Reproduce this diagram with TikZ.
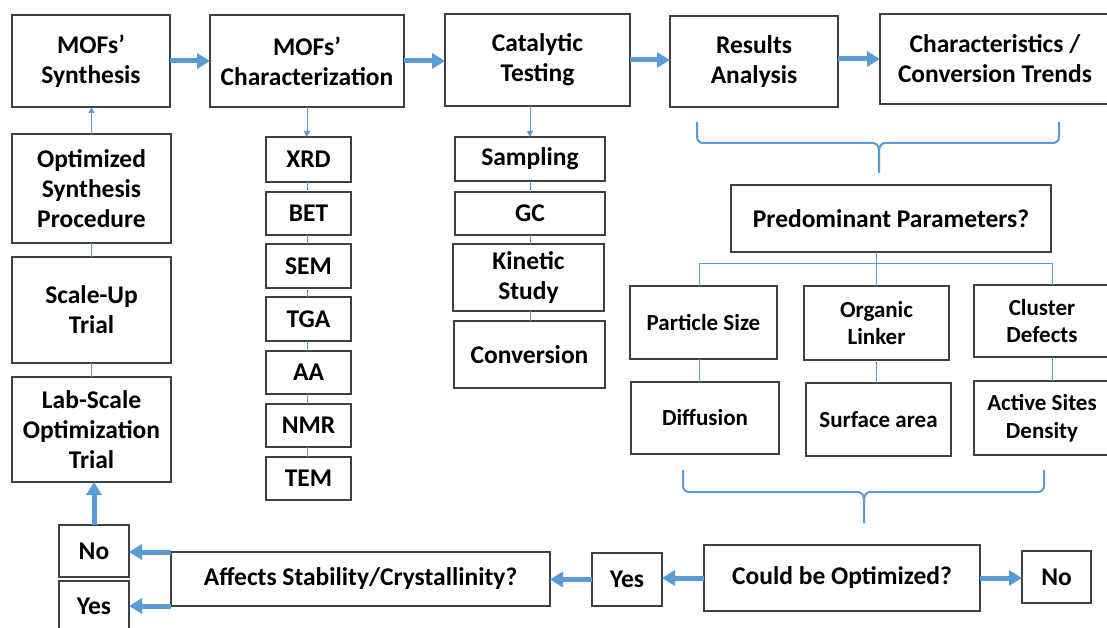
\documentclass[tikz,border=0pt]{standalone}
\usepackage{fontspec}
\setmainfont{Carlito}
\usetikzlibrary{arrows.meta}
\definecolor{bl}{RGB}{91,155,213}
\definecolor{bd}{RGB}{64,64,64}
\tikzset{
  box/.style={draw=bd, line width=1.2pt, align=center, inner sep=0pt, outer sep=0pt,
    font=\fontsize{25.5}{30}\selectfont\bfseries},
  big/.style={font=\fontsize{25.5}{30}\selectfont\bfseries},
  small/.style={font=\fontsize{23}{27.5}\selectfont\bfseries},
  thick arrow/.style={draw=bl, line width=5pt, -{Triangle[length=13pt,width=15pt]}},
  thin arrow/.style={draw=bl, line width=1pt, -{Triangle[length=6pt,width=6pt]}},
  thin line/.style={draw=bl, line width=1pt},
  brace/.style={draw=bl, line width=2pt, line join=round},
}
\newcommand\mybox[7][]{\node[box,#1,minimum width={(#4)-(#2)},minimum height={(#5)-(#3)}] (#7) at ({((#2)+(#4))/2},{((#3)+(#5))/2}) {#6};}
\begin{document}
\begin{tikzpicture}[x=1pt,y=-1pt]
\useasboundingbox[fill=white] (0,0) rectangle (1107,628);
% top row
\mybox[big]{12}{15}{170}{107}{MOFs’\\Synthesis}{syn}
\mybox[big]{210}{15}{404}{107}{MOFs’\\Characterization}{chr}
\mybox[big]{445}{14}{630}{106}{Catalytic\\Testing}{cat}
\mybox[big]{670}{16}{838}{107}{Results\\Analysis}{res}
\mybox[big]{880}{14}{1110}{104}{Characteristics /\\Conversion Trends}{trd}
% left column
\mybox[big]{12}{134}{171}{243}{Optimized\\Synthesis\\Procedure}{opt}
\mybox[big]{12}{257}{171}{363}{Scale-Up\\Trial}{scl}
\mybox[big]{12}{377}{171}{482}{Lab-Scale\\Optimization\\Trial}{lab}
% characterization column
\mybox{266}{137}{351}{182}{XRD}{xrd}
\mybox{266}{192}{351}{235}{BET}{bet}
\mybox{266}{244}{351}{288}{SEM}{sem}
\mybox{266}{297}{351}{341}{TGA}{tga}
\mybox{266}{351}{351}{394}{AA}{aa}
\mybox{266}{404}{351}{447}{NMR}{nmr}
\mybox{266}{457}{351}{500}{TEM}{tem}
% catalytic column
\mybox{455}{137}{605}{181}{Sampling}{smp}
\mybox{455}{192}{605}{235}{GC}{gc}
\mybox{453}{244}{604}{311}{Kinetic\\Study}{kin}
\mybox{454}{321}{605}{388}{Conversion}{cnv}
% analysis
\mybox{731}{185}{1051}{252}{Predominant Parameters?}{pred}
\mybox[small]{630}{286}{777}{359}{Particle Size}{part}
\mybox[small]{804}{286}{949}{360}{Organic\\Linker}{org}
\mybox[small]{974}{285}{1110}{357}{Cluster\\Defects}{clu}
\mybox[small]{631}{382}{779}{454}{Diffusion}{dif}
\mybox[small]{806}{383}{951}{456}{Surface area}{sur}
\mybox[small]{974}{381}{1110}{455}{Active Sites\\Density}{act}
% bottom row
\mybox{704}{545}{980}{611}{Could be Optimized?}{could}
\mybox{592}{553}{662}{606}{Yes}{yes2}
\mybox{1022}{551}{1091}{603}{No}{no2}
\mybox{171}{552}{550}{606}{Affects Stability/Crystallinity?}{aff}
\mybox{59}{525}{129}{577}{No}{no1}
\mybox{59}{581}{129}{632}{Yes}{yes1}
% thick arrows top
\draw[thick arrow] (syn.east) -- (syn.east -| chr.west);
\draw[thick arrow] (chr.east) -- (chr.east -| cat.west);
\draw[thick arrow] (cat.east) -- (cat.east -| res.west);
\draw[thick arrow] (res.east |- trd.east) -- (trd.west);
% thin arrows
\draw[thin arrow] (opt.north) -- (opt.north |- syn.south);
\draw[thin arrow] (chr.south) -- (chr.south |- xrd.north);
\draw[thin arrow] (smp.north |- cat.south) -- (smp.north);
% thin links
\draw[thin line] (scl.north) -- (scl.north |- opt.south);
\draw[thin line] (lab.north) -- (lab.north |- scl.south);
\foreach \a/\b in {xrd/bet,bet/sem,sem/tga,tga/aa,aa/nmr,nmr/tem}
  \draw[thin line] (\a.south -| chr.south) -- (\b.north -| chr.south);
\foreach \a/\b in {smp/gc,gc/kin,kin/cnv}
  \draw[thin line] (\a.south -| smp.north) -- (\b.north -| smp.north);
% tree
\coordinate (hl) at (699,263);
\coordinate (hr) at (1052,263);
\draw[thin line] (pred.south -| 876,0) -- (876,263);
\draw[thin line] (hl) -- (hr);
\draw[thin line] (hl) -- (part.north -| hl);
\draw[thin line] (org.north -| 876,0) -- (876,263);
\draw[thin line] (hr) -- (clu.north -| hr);
\draw[thin line] (part.south -| hl) -- (dif.north -| hl);
\draw[thin line] (org.south -| 876,0) -- (sur.north -| 876,0);
\draw[thin line] (clu.south -| hr) -- (act.north -| hr);
% braces
\coordinate (b1l) at (697,122);
\coordinate (b1r) at (1059,122);
\coordinate (b1t) at (879,173);
\draw[brace] (b1l) -- (697,137) to[out=-90,in=180] (703,143) -- (873,143) to[out=0,in=90] (879,151) -- (b1t);
\draw[brace] (b1r) -- (1059,137) to[out=-90,in=0] (1053,143) -- (885,143) to[out=180,in=90] (879,151);
\coordinate (b2l) at (683,470);
\coordinate (b2r) at (1044,470);
\coordinate (b2t) at (864,523);
\draw[brace] (b2l) -- (683,486) to[out=-90,in=180] (689,492) -- (858,492) to[out=0,in=90] (864,500) -- (b2t);
\draw[brace] (b2r) -- (1044,486) to[out=-90,in=0] (1038,492) -- (870,492) to[out=180,in=90] (864,500);
% bottom arrows
\draw[thick arrow] (could.west) -- (could.west -| yes2.east);
\draw[thick arrow] (yes2.west) -- (yes2.west -| aff.east);
\draw[thick arrow] (could.east) -- (could.east -| no2.west);
\draw[thick arrow] (aff.north west) -- (aff.north west -| no1.east);
\draw[thick arrow] (aff.south west) -- (aff.south west -| yes1.east);
\draw[thick arrow] (no1.north) -- (no1.north |- lab.south);
\end{tikzpicture}
\end{document}
